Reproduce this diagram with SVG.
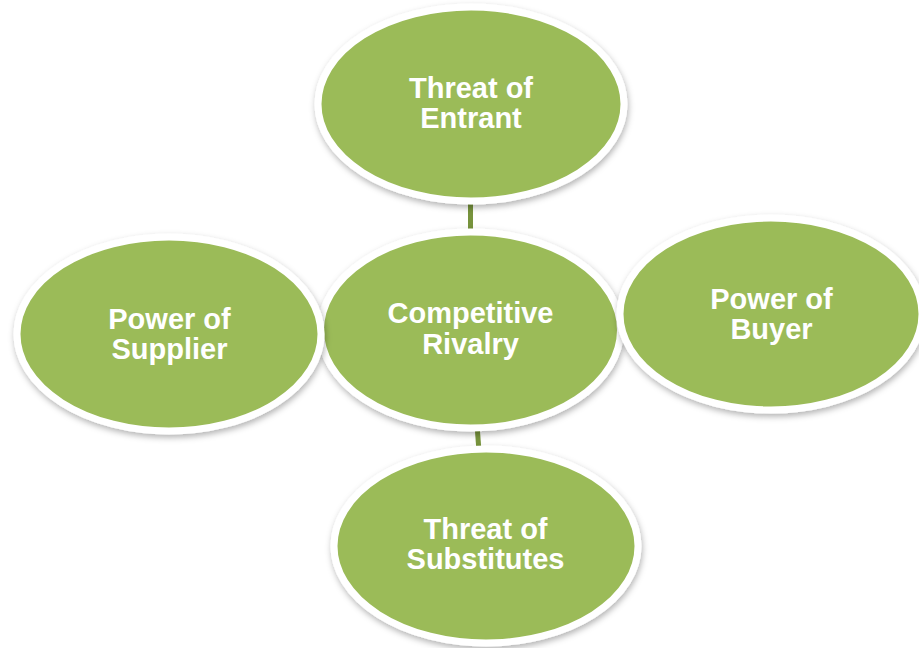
<svg xmlns="http://www.w3.org/2000/svg" width="919" height="648" viewBox="0 0 919 648">
  <defs>
    <filter id="soft-shadow" x="-10%" y="-10%" width="120%" height="125%">
      <feDropShadow dx="1" dy="3" stdDeviation="3" flood-color="#000000" flood-opacity="0.3"/>
    </filter>
  </defs>
  <style>
    .force { fill: #9BBB59; stroke: #FFFFFF; stroke-width: 7; filter: url(#soft-shadow); }
    .label { font-family: "Liberation Sans", Arial, sans-serif; font-weight: bold; font-size: 29px; fill: #FFFFFF; text-anchor: middle; }
    .link { stroke: #77933C; stroke-width: 5; fill: none; }
  </style>
  <rect width="919" height="648" fill="#FFFFFF"/>

  <!-- connectors between centre and outer forces -->
  <g id="connectors">
    <line class="link" x1="470.5" y1="104" x2="470.5" y2="330"/>
    <line class="link" x1="470" y1="330" x2="486" y2="546"/>
  </g>

  <g id="node-rivalry">
    <ellipse class="force" cx="470.5" cy="330" rx="150" ry="98"/>
    <text class="label" x="470.5" y="323">Competitive</text>
    <text class="label" x="470.5" y="354">Rivalry</text>
  </g>

  <g id="node-entrant">
    <ellipse class="force" cx="471" cy="104" rx="153" ry="97"/>
    <text class="label" x="471" y="98">Threat of</text>
    <text class="label" x="471" y="128">Entrant</text>
  </g>

  <g id="node-supplier">
    <ellipse class="force" cx="169" cy="334" rx="152" ry="97"/>
    <text class="label" x="169.5" y="329">Power of</text>
    <text class="label" x="169.5" y="359">Supplier</text>
  </g>

  <g id="node-buyer">
    <ellipse class="force" cx="771" cy="314" rx="151" ry="96"/>
    <text class="label" x="771.5" y="309">Power of</text>
    <text class="label" x="771.5" y="339">Buyer</text>
  </g>

  <g id="node-substitutes">
    <ellipse class="force" cx="486" cy="546" rx="152" ry="97"/>
    <text class="label" x="485.5" y="539">Threat of</text>
    <text class="label" x="485.5" y="569">Substitutes</text>
  </g>
</svg>
